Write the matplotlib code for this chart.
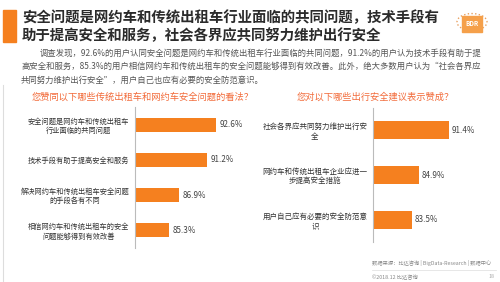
import matplotlib.pyplot as plt
from matplotlib.patches import Rectangle, Circle

plt.rcParams['font.family'] = ['Noto Sans CJK SC', 'DejaVu Sans']

# left chart data
left_labels = ['安全问题是网约车和传统出租车\n行业面临的共同问题',
               '技术手段有助于提高安全和服务',
               '解决网约车和传统出租车安全问题\n的手段各有不同',
               '相信网约车和传统出租车的安全\n问题能够得到有效改善']
left_values = [92.6, 91.2, 86.9, 85.3]

# right chart data
right_labels = ['社会各界应共同努力维护出行安\n全',
                '网约车和传统出租车企业应进一\n步提高安全措施',
                '用户自己应有必要的安全防范意\n识']
right_values = [91.4, 84.9, 83.5]

title_lines = ['安全问题是网约车和传统出租车行业面临的共同问题，技术手段有',
               '助于提高安全和服务，社会各界应共同努力维护出行安全']
body_lines = ['调查发现，92.6%的用户认同安全问题是网约车和传统出租车行业面临的共同问题，91.2%的用户认为技术手段有助于提',
              '高安全和服务，85.3%的用户相信网约车和传统出租车的安全问题能够得到有效改善。此外，绝大多数用户认为“社会各界应',
              '共同努力维护出行安全”，用户自己也应有必要的安全防范意识。']
left_q = '您赞同以下哪些传统出租车和网约车安全问题的看法？'
right_q = '您对以下哪些出行安全建议表示赞成？'

W, H = 500, 282
BAR = '#F5801F'
ORANGE_TXT = '#F26B3A'

fig = plt.figure(figsize=(5, 2.82), dpi=100)


def fx(px):
    return px / W


def fy(py):
    return 1 - py / H


# decorations
fig.add_artist(Rectangle((fx(3), fy(42)), fx(13), 32 / H, color='#F5801F',
                         transform=fig.transFigure))
fig.add_artist(plt.Line2D([fx(3), fx(3)], [fy(85), fy(282)], color='#DDDDDD',
                          lw=0.8, transform=fig.transFigure))

for i, line in enumerate(title_lines):
    fig.text(fx(22), fy(18 + i * 18), line, fontsize=10.4, fontweight='bold',
             color='#2B2B2B', va='center', ha='left')

for i, (line, x0) in enumerate(zip(body_lines, [40, 21, 21])):
    fig.text(fx(x0), fy(53 + i * 13.5), line, fontsize=6.0, color='#555555',
             va='center', ha='left')

# logo
fig.add_artist(Circle((fx(472), fy(22)), 15 / W, fill=False, ls=':',
                      ec='#E8A060', lw=1.0, transform=fig.transFigure))
fig.add_artist(Rectangle((fx(462), fy(32)), fx(20), 16 / H, color='#F5A04A',
                         transform=fig.transFigure))
fig.text(fx(472), fy(24), 'BDR', fontsize=4.5, color='white', fontweight='bold',
         ha='center', va='center')

fig.text(fx(32), fy(97), left_q, fontsize=6.7, color=ORANGE_TXT, va='center')
fig.text(fx(297), fy(97), right_q, fontsize=6.7, color=ORANGE_TXT, va='center')


def bar_chart(rect, labels, values, xmin, scale, label_fs):
    left, top, width, bottom = rect
    ax = fig.add_axes([fx(left), fy(bottom), fx(width), (bottom - top) / H])
    pos = list(range(len(values)))
    ax.barh(pos, [v - xmin for v in values], left=xmin, height=0.4, color=BAR)
    ax.set_xlim(xmin, xmin + width / scale)
    ax.set_ylim(len(values) - 0.5, -0.5)
    ax.set_yticks(pos)
    ax.set_yticklabels(labels, fontsize=label_fs, color='#333333',
                       multialignment='center')
    ax.tick_params(axis='y', length=0, pad=4)
    ax.set_xticks([])
    for s in ['top', 'right', 'bottom']:
        ax.spines[s].set_visible(False)
    ax.spines['left'].set_color('#BBBBBB')
    ax.spines['left'].set_linewidth(0.8)
    for p, v in zip(pos, values):
        ax.text(v + 0.6, p, f'{v}%', fontsize=5.8, color='#444444',
                va='center', ha='left')
    return ax


bar_chart((135, 107, 110, 248), left_labels, left_values, 80.0, 6.4, 5.2)
bar_chart((373, 108, 110, 242), right_labels, right_values, 75.2, 4.7, 5.4)

# footer
fig.text(fx(372), fy(263), '数据来源：比达咨询 | BigData-Research | 数据中心',
         fontsize=3.8, color='#888888', va='center')
fig.add_artist(plt.Line2D([fx(372), fx(496)], [fy(270), fy(270)], color='#DDDDDD',
                          lw=0.5, transform=fig.transFigure))
fig.text(fx(372), fy(277), '©2018.12 比达咨询', fontsize=3.8, color='#888888',
         va='center')
fig.text(fx(494), fy(277), '18', fontsize=3.8, color='#AAAAAA', va='center',
         ha='right')

fig.savefig('out.png', dpi=100)
